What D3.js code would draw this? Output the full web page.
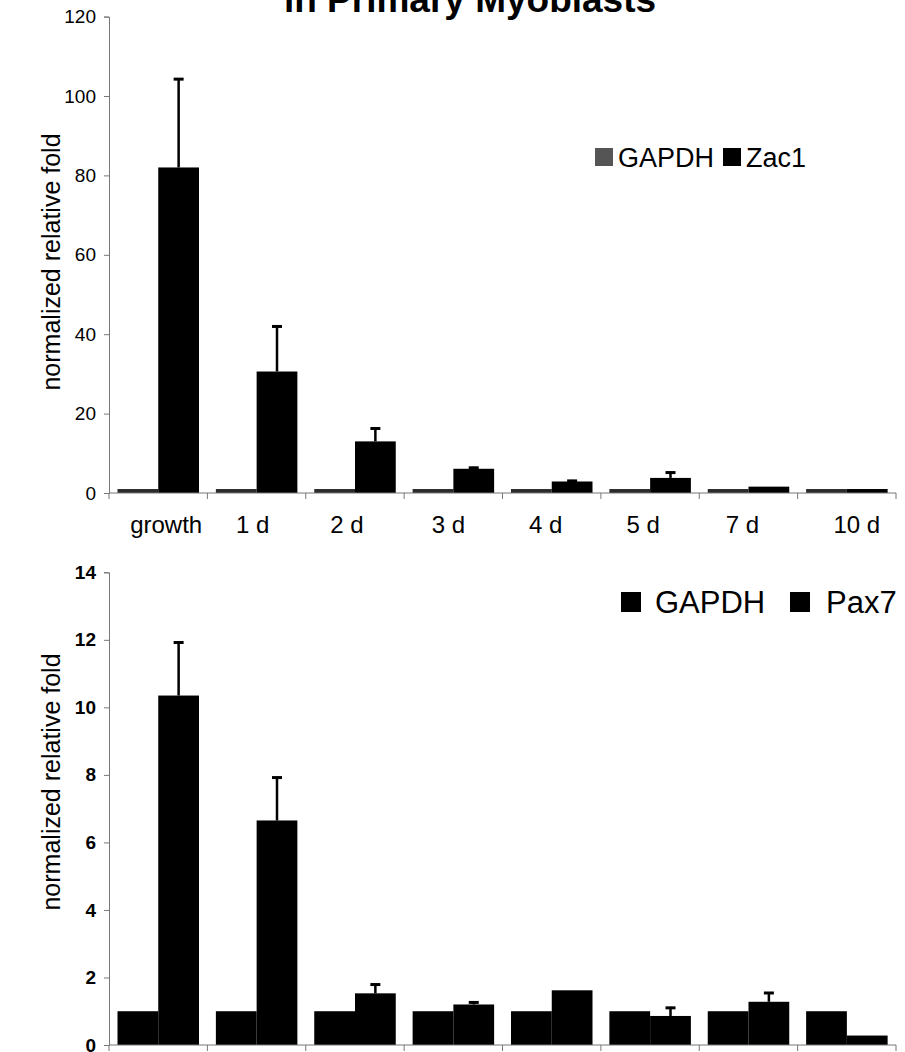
<!DOCTYPE html>
<html><head><meta charset="utf-8">
<script src="https://cdn.jsdelivr.net/npm/d3@7"></script>
<style>body{margin:0;background:#fff}svg{display:block}text{font-family:"Liberation Sans",Arial,sans-serif}</style>
</head><body><svg id="c" width="905" height="1052"></svg>
<script>
const categories = ["growth","1 d","2 d","3 d","4 d","5 d","7 d","10 d"];
const series = ["GAPDH","target"];
// top panel: Zac1
const gapdhTop = [1,1,1,1,1,1,1,1];
const zac1 = [82.0,30.6,13.0,6.1,2.9,3.8,1.6,1.0];
const zac1Err = [104.5,42.2,16.5,6.6,3.3,5.4,null,null];
const yTicksTop = [0,20,40,60,80,100,120];
// bottom panel: Pax7
const gapdhBot = [1,1,1,1,1,1,1,1];
const pax7 = [10.35,6.65,1.53,1.2,1.62,0.86,1.28,0.28];
const pax7Err = [11.95,7.95,1.82,1.29,null,1.13,1.57,null];
const yTicksBot = [0,2,4,6,8,10,12,14];

const svg = d3.select("#c");
const x = d3.scaleBand().domain(categories).range([109,896]).padding(0);
const xi = d3.scaleBand().domain(series).range([8.5,90]).padding(0);

svg.append("text").attr("x",470).attr("y",12).attr("text-anchor","middle")
  .attr("font-size",37).attr("font-weight","bold").text("in Primary Myoblasts");

function panel(opts){
  const y = d3.scaleLinear().domain([0,opts.max]).range([opts.y0,opts.y1]);
  const g = svg.append("g");
  categories.forEach((c,i)=>{
    g.append("rect").attr("x",x(c)+xi("GAPDH")).attr("width",xi.bandwidth())
      .attr("y",y(opts.g[i])).attr("height",y(0)-y(opts.g[i])).attr("fill",opts.gcol);
    g.append("rect").attr("x",x(c)+xi("target")).attr("width",xi.bandwidth())
      .attr("y",y(opts.t[i])).attr("height",y(0)-y(opts.t[i])).attr("fill","#000");
    if(opts.e[i]!=null){
      const cx = x(c)+xi("target")+xi.bandwidth()/2;
      g.append("line").attr("x1",cx).attr("x2",cx).attr("y1",y(opts.t[i])).attr("y2",y(opts.e[i]))
        .attr("stroke","#000").attr("stroke-width",2.5);
      g.append("line").attr("x1",cx-5).attr("x2",cx+5).attr("y1",y(opts.e[i])+1).attr("y2",y(opts.e[i])+1)
        .attr("stroke","#000").attr("stroke-width",3);
    }
  });
  const ya = g.append("g").attr("transform","translate(109,0)")
    .call(d3.axisLeft(y).tickValues(opts.ticks).tickSize(5).tickPadding(8));
  ya.select(".domain").attr("stroke","#777");
  ya.selectAll(".tick line").attr("stroke","#777");
  ya.selectAll("text").attr("font-size",opts.tfs).attr("fill","#000").attr("font-weight",opts.tfw);
  const xa = g.append("g").attr("transform",`translate(0,${opts.y0})`);
  xa.append("line").attr("x1",109).attr("x2",896).attr("stroke","#777");
  categories.concat(["_end"]).forEach((c,i)=>{
    const xx = 109 + i*x.step();
    xa.append("line").attr("x1",xx).attr("x2",xx).attr("y1",0).attr("y2",6).attr("stroke","#777");
  });
  if(opts.labels){
    categories.forEach(c=>{
      xa.append("text").attr("x",x(c)+x.bandwidth()/2+opts.lo(c)).attr("y",40).attr("text-anchor","middle")
        .attr("font-size",24).text(c);
    });
  }
  svg.append("text").attr("transform",`translate(${opts.tx},${opts.ty}) rotate(-90)`)
    .attr("text-anchor","middle").attr("font-size",25).text("normalized relative fold");
  const L = opts.leg;
  svg.append("rect").attr("x",L.s1).attr("y",L.y-L.sw/2).attr("width",L.sw).attr("height",L.sw).attr("fill",opts.gsw);
  svg.append("text").attr("x",L.t1).attr("y",L.y+L.fs*0.36).attr("font-size",L.fs).text("GAPDH");
  svg.append("rect").attr("x",L.s2).attr("y",L.y-L.sw/2).attr("width",L.sw).attr("height",L.sw).attr("fill","#000");
  svg.append("text").attr("x",L.t2).attr("y",L.y+L.fs*0.36).attr("font-size",L.fs).text(L.name);
}

const lblOffset = {"growth":8,"1 d":-4,"2 d":-8,"3 d":-5,"4 d":-6,"5 d":-7,"7 d":-6,"10 d":10};
panel({max:120,y0:493,y1:16.6,g:gapdhTop,t:zac1,e:zac1Err,ticks:yTicksTop,gcol:"#2b2b2b",gsw:"#555",
  tfs:19,tfw:"normal",labels:true,lo:c=>lblOffset[c],tx:60,ty:262,
  leg:{y:157,s1:595,t1:618,s2:723,t2:746,name:"Zac1",fs:27,sw:18}});
panel({max:14,y0:1045,y1:572.3,g:gapdhBot,t:pax7,e:pax7Err,ticks:yTicksBot,gcol:"#000",gsw:"#000",
  tfs:19,tfw:"bold",labels:false,tx:60,ty:782,
  leg:{y:602,s1:621,t1:655,s2:790,t2:826,name:"Pax7",fs:31,sw:20}});
</script></body></html>
